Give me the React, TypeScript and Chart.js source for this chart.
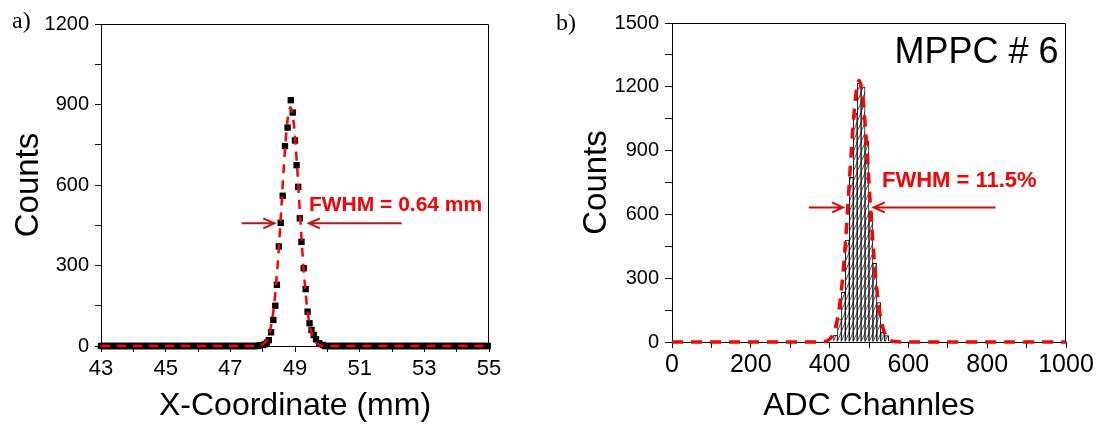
import React, { useEffect, useRef } from 'react';
import { Chart, registerables } from 'chart.js';

Chart.register(...registerables);

const FONT = "'Liberation Sans', Arial, Helvetica, sans-serif";

// ---------------- Panel a) ----------------
const A_X_LABELS = [43, 45, 47, 49, 51, 53, 55];
const A_Y_LABELS = [0, 300, 600, 900, 1200];

// measured points around the peak (mm, counts)
const A_PEAK_X = [47.91, 48.01, 48.07, 48.13, 48.19, 48.26, 48.33, 48.39, 48.44, 48.5, 48.56, 48.62, 48.69, 48.77, 48.87, 48.93, 49.0, 49.05, 49.1, 49.15, 49.2, 49.27, 49.33, 49.39, 49.45, 49.51, 49.58, 49.65, 49.75, 49.86];
const A_PEAK_Y = [3, 4, 7, 13, 22, 51, 97, 150, 228, 371, 459, 560, 745, 814, 916, 870, 766, 674, 593, 476, 388, 290, 212, 128, 85, 60, 41, 25, 10, 4];

// empty tails, sampled every 0.06 mm
const A_TAIL_STEP = 0.06;
const A_LEFT_TAIL_START = 43;
const A_LEFT_TAIL = [
  0, 0, 0, 0, 0, 0, 0, 0, 0, 0, 0, 0, 0, 0, 0, 0, 0, 0, 0, 0,
  0, 0, 0, 0, 0, 0, 0, 0, 0, 0, 0, 0, 0, 0, 0, 0, 0, 0, 0, 0,
  0, 0, 0, 0, 0, 0, 0, 0, 0, 0, 0, 0, 0, 0, 0, 0, 0, 0, 0, 0,
  0, 0, 0, 0, 0, 0, 0, 0, 0, 0, 0, 0, 0, 0, 0, 0, 0, 0, 0, 0,
  0, 0,
];
const A_RIGHT_TAIL_START = 49.92;
const A_RIGHT_TAIL = [
  0, 0, 0, 0, 0, 0, 0, 0, 0, 0, 0, 0, 0, 0, 0, 0, 0, 0, 0, 0,
  0, 0, 0, 0, 0, 0, 0, 0, 0, 0, 0, 0, 0, 0, 0, 0, 0, 0, 0, 0,
  0, 0, 0, 0, 0, 0, 0, 0, 0, 0, 0, 0, 0, 0, 0, 0, 0, 0, 0, 0,
  0, 0, 0, 0, 0, 0, 0, 0, 0, 0, 0, 0, 0, 0, 0, 0, 0, 0, 0, 0,
  0, 0, 0, 0, 0,
];

// Gaussian fit curve
const A_FIT_X = [43, 47.6, 47.86, 47.96, 48.06, 48.16, 48.26, 48.36, 48.46, 48.56, 48.66, 48.76, 48.86, 48.96, 49.06, 49.16, 49.26, 49.36, 49.46, 49.56, 49.66, 49.76, 49.86, 50.1, 55];
const A_FIT_Y = [0, 0, 1, 3, 11, 31, 75, 160, 297, 480, 677, 831, 890, 831, 677, 480, 297, 160, 75, 31, 11, 3, 1, 0, 0];

// ---------------- Panel b) ----------------
const B_X_LABELS = [0, 200, 400, 600, 800, 1000];
const B_Y_LABELS = [0, 300, 600, 900, 1200, 1500];
const B_BIN_WIDTH = 10;
const B_BIN_LEFT = [410, 420, 430, 440, 450, 460, 470, 480, 490, 500, 510, 520, 530, 540];
const B_COUNTS = [33, 105, 234, 479, 774, 1075, 1216, 1200, 945, 605, 370, 185, 45, 30];
const B_FIT_X = [0, 375, 395, 405, 415, 425, 435, 445, 455, 465, 475, 485, 495, 505, 515, 525, 535, 545, 555, 565, 585, 1000];
const B_FIT_Y = [0, 0, 7, 24, 69, 166, 342, 599, 893, 1135, 1230, 1135, 893, 599, 342, 166, 69, 24, 7, 2, 0, 0];

// ---------------- helpers ----------------
const framePlugin = {
  id: 'frameAnnot',
  afterDraw(chart: any, _args: any, opts: any) {
    const { ctx, chartArea: a } = chart;
    const xs = chart.scales.x;
    const ys = chart.scales.y;
    ctx.save();
    ctx.strokeStyle = '#000';
    ctx.lineWidth = 1;
    const l = Math.round(a.left) + 0.5;
    const r = Math.round(a.right) - 0.5;
    const t = Math.round(a.top) + 0.5;
    const b = Math.round(a.bottom) - 0.5;
    ctx.beginPath();
    ctx.moveTo(l, t);
    ctx.lineTo(r, t);
    ctx.lineTo(r, b);
    ctx.stroke();
    (opts.arrows || []).forEach((ar: any) => {
      const x1 = xs.getPixelForValue(ar.from);
      const x2 = xs.getPixelForValue(ar.to);
      const y = ys.getPixelForValue(ar.y);
      const dir = Math.sign(x2 - x1);
      ctx.strokeStyle = ar.color;
      ctx.lineWidth = 2;
      ctx.beginPath();
      ctx.moveTo(x1, y);
      ctx.lineTo(x2, y);
      ctx.moveTo(x2 - dir * 11, y - 5);
      ctx.lineTo(x2, y);
      ctx.lineTo(x2 - dir * 11, y + 5);
      ctx.stroke();
    });
    (opts.texts || []).forEach((tx: any) => {
      ctx.font = tx.font;
      ctx.fillStyle = tx.color;
      ctx.textAlign = tx.align || 'left';
      ctx.textBaseline = 'alphabetic';
      ctx.fillText(tx.text, xs.getPixelForValue(tx.x), ys.getPixelForValue(tx.y));
    });
    ctx.restore();
  },
};

function makeHatch(): CanvasPattern | string {
  const c = document.createElement('canvas');
  c.width = 4;
  c.height = 10;
  const g = c.getContext('2d');
  if (!g) return '#fff';
  g.fillStyle = '#fff';
  g.fillRect(0, 0, 4, 10);
  g.strokeStyle = '#000';
  g.lineWidth = 0.7;
  g.beginPath();
  g.moveTo(-1, 12.5);
  g.lineTo(5, -2.5);
  g.stroke();
  return g.createPattern(c, 'repeat') || '#fff';
}

const tickFont = (size: number) => ({ family: FONT, size });

function axisCommon(opts: {
  min: number; max: number; step: number; labels: number[]; fontSize: number; padding: number;
  tickLength: number; title: string; titleSize: number; titlePad: any; fit: (s: any) => void;
}) {
  return {
    type: 'linear' as const,
    min: opts.min,
    max: opts.max,
    offset: false,
    afterFit: opts.fit,
    ticks: {
      stepSize: opts.step,
      autoSkip: false,
      maxRotation: 0,
      minRotation: 0,
      padding: opts.padding,
      color: '#000',
      font: tickFont(opts.fontSize),
      callback: (v: any) => (opts.labels.includes(Number(v)) ? String(v) : ''),
    },
    grid: {
      offset: false,
      drawOnChartArea: false,
      drawTicks: true,
      tickLength: opts.tickLength,
      tickColor: '#000',
      tickWidth: 1,
    },
    border: { display: true, color: '#000', width: 1 },
    title: {
      display: true,
      text: opts.title,
      color: '#000',
      font: { family: FONT, size: opts.titleSize },
      padding: opts.titlePad,
    },
  };
}

function PanelA() {
  const ref = useRef<HTMLCanvasElement>(null);
  useEffect(() => {
    if (!ref.current) return;
    const pts = [
      ...A_LEFT_TAIL.map((y, i) => ({ x: A_LEFT_TAIL_START + i * A_TAIL_STEP, y })),
      ...A_PEAK_X.map((x, i) => ({ x, y: A_PEAK_Y[i] })),
      ...A_RIGHT_TAIL.map((y, i) => ({ x: A_RIGHT_TAIL_START + i * A_TAIL_STEP, y })),
    ];
    const chart = new Chart(ref.current, {
      type: 'line',
      data: {
        datasets: [
          {
            label: 'fit',
            data: A_FIT_X.map((x, i) => ({ x, y: A_FIT_Y[i] })),
            borderColor: '#ff0000',
            borderWidth: 2.5,
            borderDash: [9, 7],
            pointRadius: 0,
            fill: false,
            cubicInterpolationMode: 'monotone',
            clip: false,
          } as any,
          {
            label: 'data',
            data: pts,
            showLine: false,
            pointStyle: 'rect',
            pointRadius: 4.5,
            pointBackgroundColor: '#000',
            pointBorderWidth: 0,
            clip: false,
          } as any,
        ],
      },
      options: {
        animation: false,
        responsive: false,
        events: [],
        layout: { padding: { left: 0, top: 24, right: 61, bottom: 0 } },
        plugins: {
          legend: { display: false },
          tooltip: { enabled: false },
          frameAnnot: {
            arrows: [
              { from: 47.35, to: 48.36, y: 457, color: '#cc1010' },
              { from: 52.3, to: 49.43, y: 457, color: '#cc1010' },
            ],
            texts: [
              { text: 'FWHM = 0.64 mm', x: 49.43, y: 504, font: `bold 21px ${FONT}`, color: '#ff0000' },
            ],
          },
        } as any,
        scales: {
          x: axisCommon({
            min: 43, max: 55, step: 1, labels: A_X_LABELS, fontSize: 22, padding: 4, tickLength: 6,
            title: 'X-Coordinate (mm)', titleSize: 32, titlePad: { top: 0, bottom: 0 },
            fit: (s: any) => { s.height = 79; },
          }),
          y: axisCommon({
            min: 0, max: 1200, step: 150, labels: A_Y_LABELS, fontSize: 20, padding: 6, tickLength: 6,
            title: 'Counts', titleSize: 33, titlePad: { top: 9, bottom: 0 },
            fit: (s: any) => { s.width = 101; },
          }),
        } as any,
      },
      plugins: [framePlugin],
    });
    return () => chart.destroy();
  }, []);
  return (
    <canvas
      ref={ref}
      width={550}
      height={425}
      style={{ position: 'absolute', left: 0, top: 0, width: 550, height: 425 }}
    />
  );
}

function PanelB() {
  const ref = useRef<HTMLCanvasElement>(null);
  useEffect(() => {
    if (!ref.current) return;
    const hatch = makeHatch();
    const chart = new Chart(ref.current, {
      type: 'bar',
      data: {
        datasets: [
          {
            type: 'line',
            label: 'fit',
            data: B_FIT_X.map((x, i) => ({ x, y: B_FIT_Y[i] })),
            borderColor: '#ff0000',
            borderWidth: 3.5,
            borderDash: [11, 8],
            pointRadius: 0,
            fill: false,
            cubicInterpolationMode: 'monotone',
            clip: false,
          } as any,
          {
            type: 'bar',
            label: 'hist',
            data: B_BIN_LEFT.map((l, i) => ({ x: l + B_BIN_WIDTH / 2, y: B_COUNTS[i] })),
            backgroundColor: hatch as any,
            borderColor: '#111',
            borderWidth: 1,
            borderSkipped: 'start',
            barPercentage: 1,
            categoryPercentage: 1,
          } as any,
        ],
      },
      options: {
        animation: false,
        responsive: false,
        events: [],
        layout: { padding: { left: 0, top: 23, right: 31, bottom: 0 } },
        plugins: {
          legend: { display: false },
          tooltip: { enabled: false },
          frameAnnot: {
            arrows: [
              { from: 347, to: 434, y: 633, color: '#ee0000' },
              { from: 821, to: 512, y: 633, color: '#ee0000' },
            ],
            texts: [
              { text: 'FWHM = 11.5%', x: 533, y: 730, font: `bold 22px ${FONT}`, color: '#ff0000' },
              { text: 'MPPC # 6', x: 981, y: 1314, font: `36px ${FONT}`, color: '#000', align: 'right' },
            ],
          },
        } as any,
        scales: {
          x: axisCommon({
            min: 0, max: 1000, step: 100, labels: B_X_LABELS, fontSize: 25, padding: 2, tickLength: 6,
            title: 'ADC Channles', titleSize: 32, titlePad: { top: 0, bottom: 0 },
            fit: (s: any) => { s.height = 83; },
          }),
          y: axisCommon({
            min: 0, max: 1500, step: 150, labels: B_Y_LABELS, fontSize: 20, padding: 6, tickLength: 7,
            title: 'Counts', titleSize: 33, titlePad: { top: 27, bottom: 0 },
            fit: (s: any) => { s.width = 122; },
          }),
        } as any,
      },
      plugins: [framePlugin],
    });
    return () => chart.destroy();
  }, []);
  return (
    <canvas
      ref={ref}
      width={547}
      height={425}
      style={{ position: 'absolute', left: 550, top: 0, width: 547, height: 425 }}
    />
  );
}

const panelLabel: React.CSSProperties = {
  position: 'absolute',
  fontFamily: "'Liberation Serif', 'Times New Roman', serif",
  fontSize: 24,
  lineHeight: '24px',
  color: '#000',
  whiteSpace: 'nowrap',
};

export default function App() {
  return (
    <div
      style={{
        position: 'fixed',
        left: 0,
        top: 0,
        width: 1097,
        height: 425,
        background: '#fff',
        overflow: 'hidden',
      }}
    >
      <PanelA />
      <PanelB />
      <div style={{ ...panelLabel, left: 12, top: 8 }}>a)</div>
      <div style={{ ...panelLabel, left: 556, top: 10 }}>b)</div>
    </div>
  );
}
